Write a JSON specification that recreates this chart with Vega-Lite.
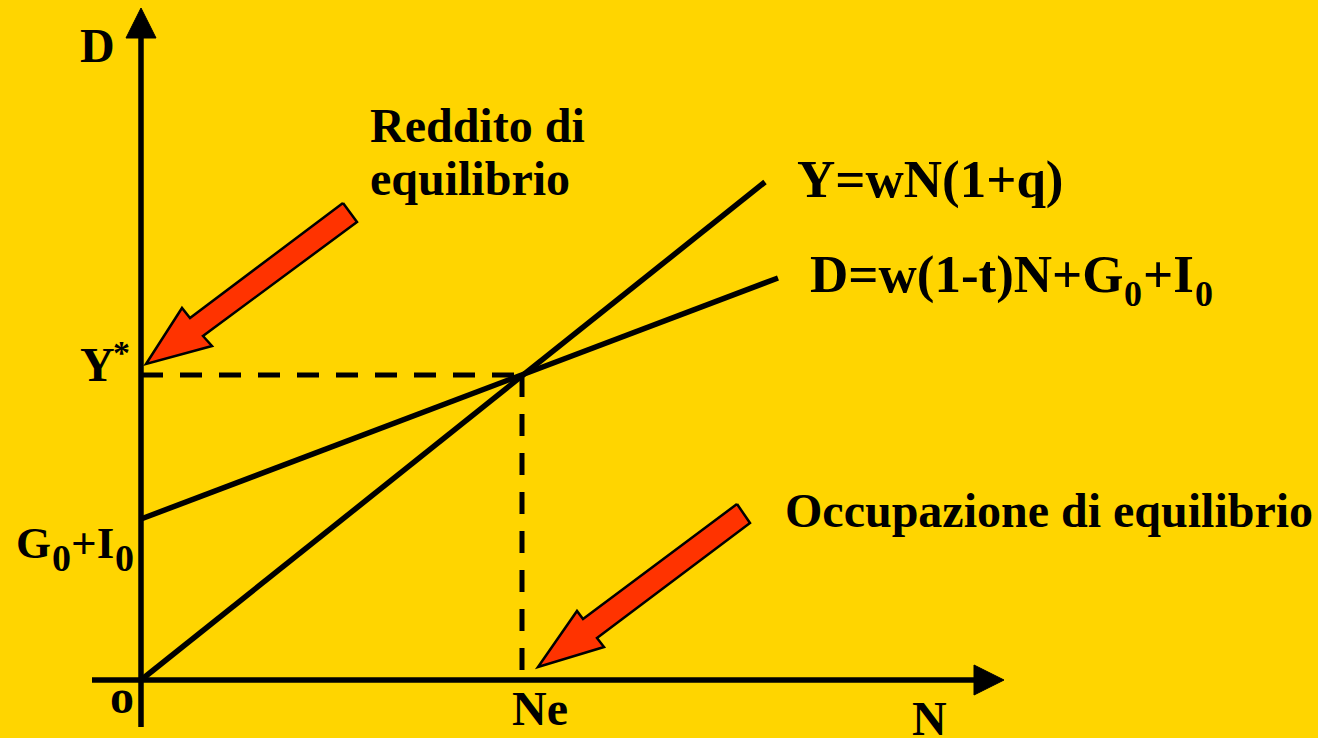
{
  "$schema": "https://vega.github.io/schema/vega-lite/v6.json",
  "width": 1318,
  "height": 738,
  "autosize": {"type": "none"},
  "padding": 0,
  "background": "#FFD500",
  "config": {"view": {"stroke": null}},
  "datasets": {
    "linee": [
      {"id": "asse D", "ord": 1, "u": 0, "v": -47},
      {"id": "asse D", "ord": 2, "u": 0, "v": 645},
      {"id": "asse N", "ord": 1, "u": -49, "v": 0},
      {"id": "asse N", "ord": 2, "u": 836, "v": 0},
      {"id": "Y=wN(1+q)", "ord": 1, "u": 0, "v": 0},
      {"id": "Y=wN(1+q)", "ord": 2, "u": 624, "v": 498},
      {"id": "D=w(1-t)N+G0+I0", "ord": 1, "u": 0, "v": 161},
      {"id": "D=w(1-t)N+G0+I0", "ord": 2, "u": 637, "v": 402}
    ],
    "tratteggi": [
      {"id": "Y*", "ord": 1, "u": 0, "v": 305},
      {"id": "Y*", "ord": 2, "u": 381, "v": 305},
      {"id": "Ne", "ord": 1, "u": 381, "v": 305},
      {"id": "Ne", "ord": 2, "u": 381, "v": 0}
    ],
    "punte": [
      {"id": "punta D", "ord": 1, "u": 0, "v": 672},
      {"id": "punta D", "ord": 2, "u": -15, "v": 642},
      {"id": "punta D", "ord": 3, "u": 15, "v": 642},
      {"id": "punta D", "ord": 4, "u": 0, "v": 672},
      {"id": "punta N", "ord": 1, "u": 863, "v": 0},
      {"id": "punta N", "ord": 2, "u": 833, "v": 15},
      {"id": "punta N", "ord": 3, "u": 833, "v": -15},
      {"id": "punta N", "ord": 4, "u": 863, "v": 0}
    ],
    "frecce": [
      {"id": "reddito", "ord": 1, "u": 202, "v": 477},
      {"id": "reddito", "ord": 2, "u": 216, "v": 458},
      {"id": "reddito", "ord": 3, "u": 62, "v": 344},
      {"id": "reddito", "ord": 4, "u": 71, "v": 334},
      {"id": "reddito", "ord": 5, "u": 5, "v": 316},
      {"id": "reddito", "ord": 6, "u": 41, "v": 372},
      {"id": "reddito", "ord": 7, "u": 49, "v": 362},
      {"id": "reddito", "ord": 8, "u": 202, "v": 477},
      {"id": "occupazione", "ord": 1, "u": 596, "v": 176},
      {"id": "occupazione", "ord": 2, "u": 609, "v": 157},
      {"id": "occupazione", "ord": 3, "u": 456, "v": 42},
      {"id": "occupazione", "ord": 4, "u": 463, "v": 33},
      {"id": "occupazione", "ord": 5, "u": 397, "v": 13},
      {"id": "occupazione", "ord": 6, "u": 436, "v": 69},
      {"id": "occupazione", "ord": 7, "u": 442, "v": 61},
      {"id": "occupazione", "ord": 8, "u": 596, "v": 176}
    ],
    "testi": [
      {"kind": "etichetta", "text": "D", "u": -61, "v": 618},
      {"kind": "etichetta", "text": "Reddito di", "u": 229, "v": 538},
      {"kind": "etichetta", "text": "equilibrio", "u": 229, "v": 485},
      {"kind": "etichetta", "text": "Y", "u": -61, "v": 299},
      {"kind": "etichetta", "text": "Occupazione di equilibrio", "u": 644, "v": 153},
      {"kind": "etichetta", "text": "Ne", "u": 371, "v": -45},
      {"kind": "etichetta", "text": "N", "u": 771, "v": -55},
      {"kind": "etichetta", "text": "o", "u": -31, "v": -33},
      {"kind": "apice", "text": "*", "u": -28, "v": 316},
      {"kind": "formula", "text": "Y=wN(1+q)", "u": 656, "v": 483},
      {"kind": "formula", "text": "D=w(1-t)N+G", "u": 669, "v": 388},
      {"kind": "formula", "text": "+I", "u": 1002, "v": 388},
      {"kind": "pedice formula", "text": "0", "u": 983, "v": 374},
      {"kind": "pedice formula", "text": "0", "u": 1054, "v": 374},
      {"kind": "G0", "text": "G", "u": -125, "v": 122},
      {"kind": "G0", "text": "+I", "u": -70, "v": 122},
      {"kind": "pedice G0", "text": "0", "u": -89, "v": 109},
      {"kind": "pedice G0", "text": "0", "u": -26, "v": 109}
    ]
  },
  "encoding": {
    "x": {"field": "u", "type": "quantitative", "scale": {"domain": [-141, 1177], "nice": false, "zero": false}, "axis": null},
    "y": {"field": "v", "type": "quantitative", "scale": {"domain": [-58, 680], "nice": false, "zero": false}, "axis": null}
  },
  "layer": [
    {
      "data": {"name": "tratteggi"},
      "mark": {"type": "line", "color": "black", "strokeWidth": 5, "strokeDash": [22, 17], "strokeCap": "butt"},
      "encoding": {"detail": {"field": "id"}, "order": {"field": "ord"}}
    },
    {
      "data": {"name": "linee"},
      "mark": {"type": "line", "color": "black", "strokeWidth": 5.5, "strokeCap": "butt"},
      "encoding": {"detail": {"field": "id"}, "order": {"field": "ord"}}
    },
    {
      "data": {"name": "punte"},
      "mark": {"type": "line", "stroke": "black", "fill": "black", "strokeWidth": 1},
      "encoding": {"detail": {"field": "id"}, "order": {"field": "ord"}}
    },
    {
      "data": {"name": "frecce"},
      "mark": {"type": "line", "stroke": "black", "fill": "#FF3300", "strokeWidth": 2.5, "strokeJoin": "miter"},
      "encoding": {"detail": {"field": "id"}, "order": {"field": "ord"}}
    },
    {
      "data": {"name": "testi"},
      "transform": [{"filter": "datum.kind === 'etichetta'"}],
      "mark": {"type": "text", "align": "left", "baseline": "alphabetic", "font": "Liberation Serif", "fontWeight": "bold", "fontSize": 48, "color": "black"},
      "encoding": {"text": {"field": "text"}}
    },
    {
      "data": {"name": "testi"},
      "transform": [{"filter": "datum.kind === 'formula'"}],
      "mark": {"type": "text", "align": "left", "baseline": "alphabetic", "font": "Liberation Serif", "fontWeight": "bold", "fontSize": 53, "color": "black"},
      "encoding": {"text": {"field": "text"}}
    },
    {
      "data": {"name": "testi"},
      "transform": [{"filter": "datum.kind === 'pedice formula'"}],
      "mark": {"type": "text", "align": "left", "baseline": "alphabetic", "font": "Liberation Serif", "fontWeight": "bold", "fontSize": 36, "color": "black"},
      "encoding": {"text": {"field": "text"}}
    },
    {
      "data": {"name": "testi"},
      "transform": [{"filter": "datum.kind === 'G0'"}],
      "mark": {"type": "text", "align": "left", "baseline": "alphabetic", "font": "Liberation Serif", "fontWeight": "bold", "fontSize": 45, "color": "black"},
      "encoding": {"text": {"field": "text"}}
    },
    {
      "data": {"name": "testi"},
      "transform": [{"filter": "datum.kind === 'pedice G0'"}],
      "mark": {"type": "text", "align": "left", "baseline": "alphabetic", "font": "Liberation Serif", "fontWeight": "bold", "fontSize": 38, "color": "black"},
      "encoding": {"text": {"field": "text"}}
    },
    {
      "data": {"name": "testi"},
      "transform": [{"filter": "datum.kind === 'apice'"}],
      "mark": {"type": "text", "align": "left", "baseline": "alphabetic", "font": "Liberation Serif", "fontWeight": "bold", "fontSize": 34, "color": "black"},
      "encoding": {"text": {"field": "text"}}
    }
  ]
}
